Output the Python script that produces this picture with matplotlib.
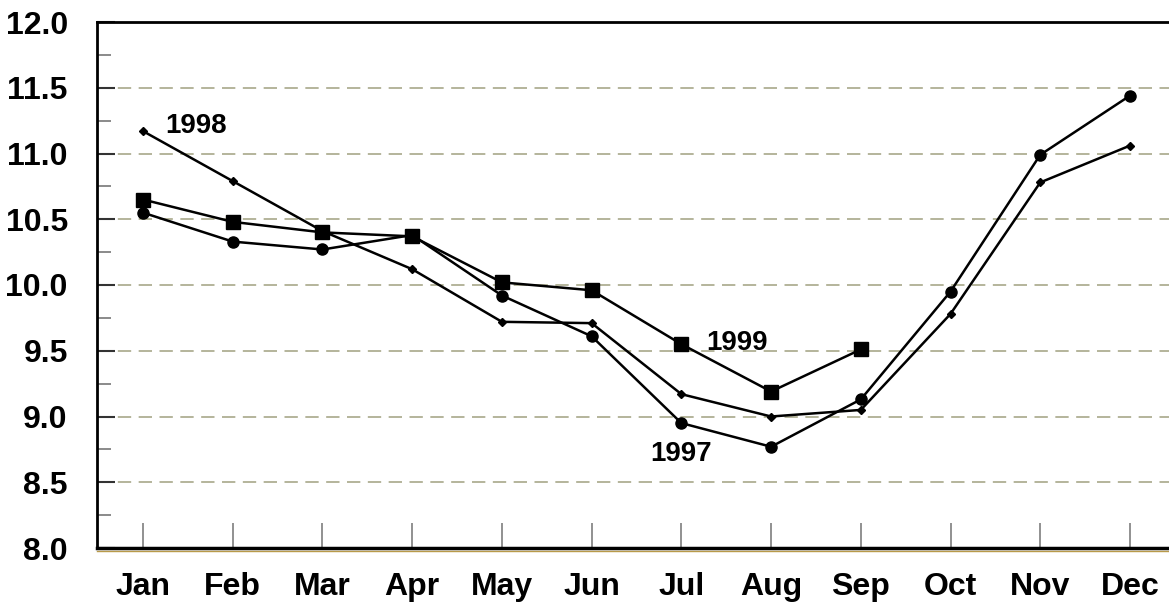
import matplotlib
matplotlib.use("Agg")
import matplotlib.pyplot as plt
from matplotlib.ticker import MultipleLocator
from matplotlib.lines import Line2D

months = ["Jan", "Feb", "Mar", "Apr", "May", "Jun", "Jul", "Aug", "Sep", "Oct", "Nov", "Dec"]
y1997 = [10.55, 10.33, 10.27, 10.38, 9.92, 9.61, 8.95, 8.77, 9.13, 9.95, 10.99, 11.44]
y1998 = [11.17, 10.79, 10.41, 10.12, 9.72, 9.71, 9.17, 9.00, 9.05, 9.78, 10.78, 11.06]
y1999 = [10.65, 10.48, 10.40, 10.37, 10.02, 9.96, 9.55, 9.19, 9.51]

plt.rcParams['font.family'] = ['Liberation Sans', 'DejaVu Sans']

fig = plt.figure(figsize=(11.69, 6.06), dpi=100)
ax = fig.add_axes([97/1169, 1-548/606, 1-97/1169, (548-22)/606])

x = list(range(12))
ax.plot(x, y1997, color="black", lw=1.8, marker="o", ms=8, zorder=3)
ax.plot(x, y1998, color="black", lw=1.8, marker="D", ms=4, zorder=3)
ax.plot(x[:len(y1999)], y1999, color="black", lw=1.8, marker="s", ms=9.5, zorder=3)

ax.set_xlim(-0.513, 11.435)
ax.set_ylim(8.0, 12.0)

for yv in [8.5, 9.0, 9.5, 10.0, 10.5, 11.0, 11.5]:
    ax.axhline(yv, color="#a8a88a", lw=1.2, dashes=(8, 4.5), zorder=1)

ax.set_yticks([8.0, 8.5, 9.0, 9.5, 10.0, 10.5, 11.0, 11.5, 12.0])
ax.set_yticklabels(["8.0", "8.5", "9.0", "9.5", "10.0", "10.5", "11.0", "11.5", "12.0"])
ax.yaxis.set_minor_locator(MultipleLocator(0.25))
ax.tick_params(axis="y", which="major", direction="in", length=13, width=1.5, color="#333333",
               labelsize=23, pad=21)
ax.tick_params(axis="y", which="minor", direction="in", length=10, width=1.2, color="#777777")
for lab in ax.get_yticklabels():
    lab.set_fontweight("bold")

ax.set_xticks(x)
ax.set_xticklabels(months, fontweight="bold")
ax.tick_params(axis="x", which="major", direction="in", length=18, width=1.3, color="#888888",
               labelsize=23, pad=17)

ax.spines["right"].set_visible(False)
for s in ["left", "top"]:
    ax.spines[s].set_linewidth(2)
ax.spines["bottom"].set_linewidth(2.5)
fig.add_artist(Line2D([97/1169, 1], [1-550.5/606, 1-550.5/606], color="#b89a4a", lw=1.0,
                      transform=fig.transFigure))

ax.annotate("1998", xy=(0.245, 11.156), fontsize=20, fontweight="bold", va="baseline", ha="left")
ax.annotate("1999", xy=(6.28, 9.506), fontsize=20, fontweight="bold", va="baseline", ha="left")
ax.annotate("1997", xy=(5.65, 8.66), fontsize=20, fontweight="bold", va="baseline", ha="left")

fig.savefig("out.png", dpi=100)
